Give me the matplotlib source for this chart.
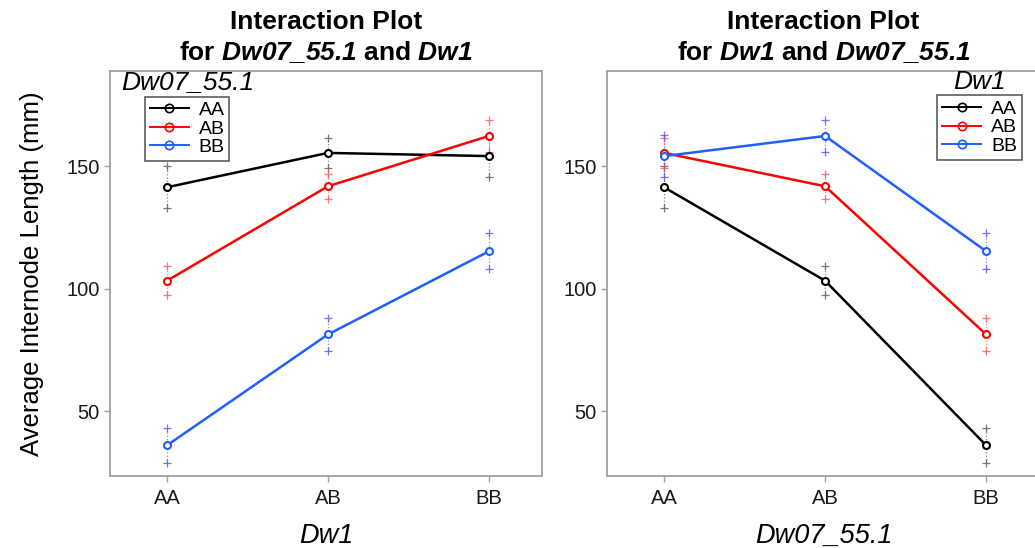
import numpy as np
import matplotlib
matplotlib.use('Agg')
import matplotlib.pyplot as plt
from matplotlib.lines import Line2D

plt.rcParams['font.family'] = ['Liberation Sans', 'DejaVu Sans']
plt.rcParams['mathtext.fontset'] = 'custom'
plt.rcParams['mathtext.rm'] = 'Liberation Sans:bold:italic'
plt.rcParams['mathtext.it'] = 'Liberation Sans:bold:italic'
plt.rcParams['mathtext.bf'] = 'Liberation Sans:bold:italic'

genotypes = ['AA', 'AB', 'BB']

# mean internode length, rows = Dw07_55.1 genotype, columns = Dw1 genotype
mean_dw07_AA = [141.4, 155.4, 154.1]
mean_dw07_AB = [103.3, 141.8, 162.3]
mean_dw07_BB = [36.2, 81.4, 115.3]

# half width of the error bars, same layout
err_dw07_AA = [8.5, 6.0, 8.6]
err_dw07_AB = [5.8, 5.0, 6.4]
err_dw07_BB = [7.0, 6.6, 7.4]

means = np.array([mean_dw07_AA, mean_dw07_AB, mean_dw07_BB])
errs = np.array([err_dw07_AA, err_dw07_AB, err_dw07_BB])

colors = ['#000000', '#ff0000', '#1f5fff']
err_colors = ['#555555', '#ff5050', '#5050ff']
spine_col = '#a0a0a0'


def interaction(ax, m, e, xlabel, title, legend_title, legend_pos, title_pos):
    x = np.arange(1, 4)
    for i in range(3):
        # error bars: dotted stem with + ends
        for j in range(3):
            lo, hi = m[i, j] - e[i, j], m[i, j] + e[i, j]
            ax.plot([x[j], x[j]], [lo, hi], ls=':', lw=0.9, color=err_colors[i], alpha=0.7, zorder=1)
            ax.plot([x[j], x[j]], [lo, hi], ls='none', marker='+', ms=5.5, mew=0.9,
                    color=err_colors[i], alpha=0.8, zorder=1)
        ax.plot(x, m[i], '-o', color=colors[i], lw=1.8, ms=5, mfc='white', mew=1.5, zorder=3)

    ax.set_xlim(0.646, 3.33)
    ax.set_ylim(23.5, 188.8)
    ax.set_xticks(x)
    ax.set_xticklabels(genotypes)
    ax.set_yticks([50, 100, 150])
    ax.tick_params(axis='both', colors=spine_col, labelcolor='#1a1a1a', labelsize=14.5,
                   length=4, width=1, direction='out')
    ax.tick_params(axis='x', pad=5)
    for s in ax.spines.values():
        s.set_color(spine_col)
        s.set_linewidth(1.3)
    ax.set_xlabel(xlabel, fontsize=19.5, style='italic', labelpad=11)
    ax.set_title(title, fontsize=19, fontweight='bold', pad=8, linespacing=1.25)

    handles = [Line2D([], [], color=colors[i], lw=1.4, marker='o', ms=6, mfc='none', mew=1.2)
               for i in range(3)]
    leg = ax.legend(handles, genotypes, loc='upper left', bbox_to_anchor=legend_pos,
                    fontsize=14, frameon=True, fancybox=False, edgecolor='#333333',
                    handlelength=2.0, handletextpad=0.5, labelspacing=0.05,
                    borderpad=0.25, borderaxespad=0)
    leg.get_frame().set_linewidth(1.2)
    ax.text(title_pos[0], title_pos[1], legend_title, transform=ax.transAxes,
            fontsize=19, style='italic', ha='center', va='bottom')


fig = plt.figure(figsize=(10.35, 5.48), dpi=100)
ax1 = fig.add_axes([0.1063, 0.1305, 0.4174, 0.740])
ax2 = fig.add_axes([0.5865, 0.1305, 0.4184, 0.740])

interaction(ax1, means, errs, 'Dw1',
            'Interaction Plot\nfor $Dw07\\_55.1$ and $Dw1$',
            'Dw07_55.1', (0.081, 0.937), (0.179, 0.943))
interaction(ax2, means.T, errs.T, 'Dw07_55.1',
            'Interaction Plot\nfor $Dw1$ and $Dw07\\_55.1$',
            'Dw1', (0.763, 0.94), (0.861, 0.943))
ax2.set_xlim(0.646, 3.335)
ax2.spines['right'].set_visible(False)

ax1.set_ylabel('Average Internode Length (mm)', fontsize=18.5, labelpad=16)

fig.savefig('out.png', dpi=100)
